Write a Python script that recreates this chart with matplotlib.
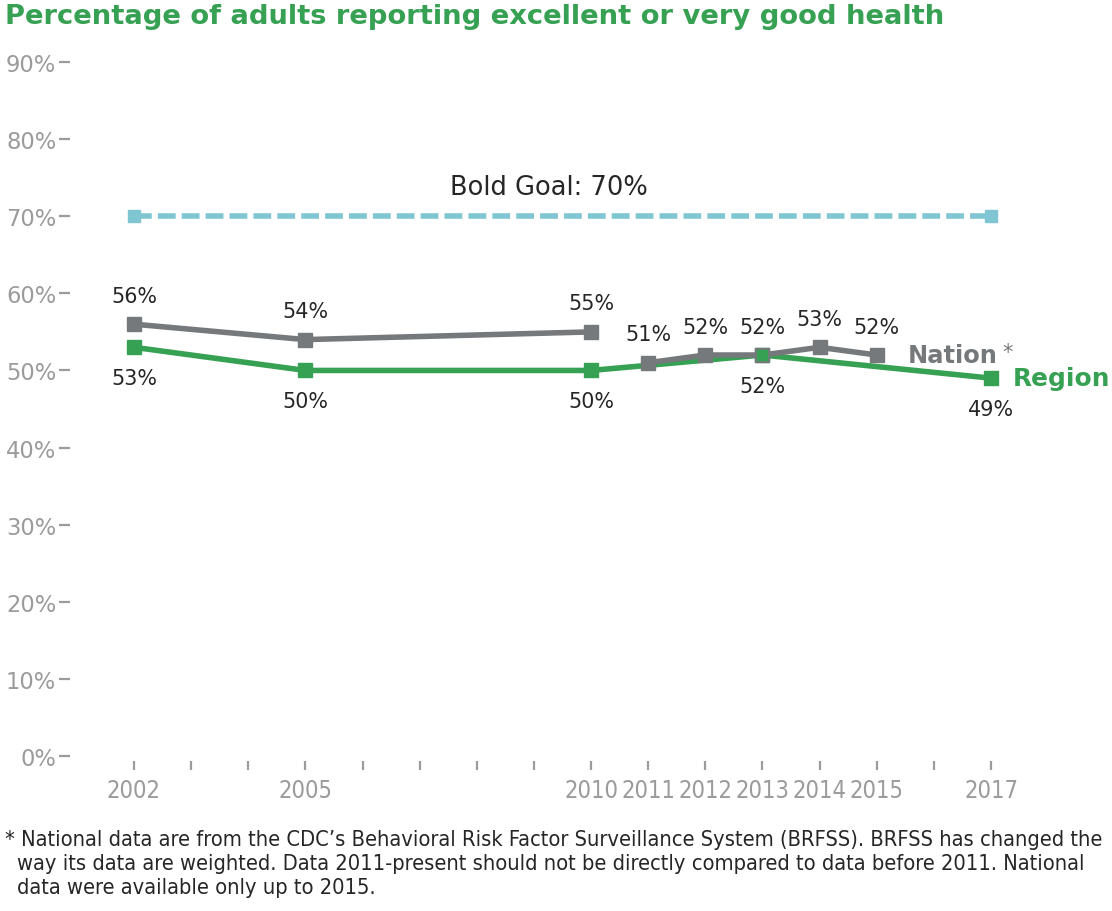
import matplotlib
matplotlib.use('Agg')
import matplotlib.pyplot as plt
from matplotlib import font_manager
from matplotlib.font_manager import FontProperties

# ---- data ----
nation_years_a = [2002, 2005, 2010]
nation_a = [56, 54, 55]
nation_years_b = [2011, 2012, 2013, 2014, 2015]
nation_b = [51, 52, 52, 53, 52]
region_years = [2002, 2005, 2010, 2013, 2017]
region = [53, 50, 50, 52, 49]
goal_years = [2002, 2017]
goal = [70, 70]
tick_years = list(range(2002, 2018))
label_years = [2002, 2005, 2010, 2011, 2012, 2013, 2014, 2015, 2017]
y_ticks = list(range(0, 100, 10))
title = "Percentage of adults reporting excellent or very good health"
goal_label = "Bold Goal: 70%"
foot_lines = ["* National data are from the CDC\u2019s Behavioral Risk Factor Surveillance System (BRFSS). BRFSS has changed the",
              "way its data are weighted. Data 2011-present should not be directly compared to data before 2011. National",
              "data were available only up to 2015."]

GREEN = '#36a153'
GRAY = '#76797c'
LGRAY = '#9b9b9b'
BLUE = '#80c6d2'
DARK = '#262626'

# look for a condensed face, else fall back to DejaVu Sans
cond_path = None
for f in font_manager.fontManager.ttflist:
    if (f.stretch in ('condensed', 'semi-condensed', 'extra-condensed') or 'Condensed' in f.name
            or 'Narrow' in f.name) and f.style == 'normal' and f.weight in (400, 'normal', 'regular'):
        cond_path = f.fname
        break
if cond_path:
    NARROW_FP = FontProperties(fname=cond_path)
else:
    NARROW_FP = FontProperties(family='DejaVu Sans')
BASE = 'DejaVu Sans'

W, H = 1112, 912
fig = plt.figure(figsize=(W / 100, H / 100), dpi=100)
renderer = fig.canvas.get_renderer()


def fit_size(text, target_px, **kw):
    t = fig.text(0, 0, text, fontsize=10, **kw)
    w = t.get_window_extent(renderer).width
    t.remove()
    return 10 * target_px / w


L, R, B, T = 70, 1100, 771, 55
ax = fig.add_axes([L / W, (H - B) / H, (R - L) / W, (B - T) / H])
pxy = (991 - 134) / 15.0
ax.set_xlim(2002 - (134 - L) / pxy, 2017 + (R - 991) / pxy)
pyy = (757 - 63) / 90.0
ax.set_ylim(-(B - 757) / pyy, 90 + (63 - T) / pyy)

for s in ax.spines.values():
    s.set_visible(False)

# goal line
ax.plot(goal_years, goal, color=BLUE, lw=4.0, ls=(0, (3.2, 1.1)), marker='s', ms=9, zorder=2)
ax.text(sum(goal_years) / 2 - 0.23, goal[0] + 3.8, goal_label, ha='center', va='center',
        fontsize=fit_size(goal_label, 198, family=BASE), color=DARK, family=BASE)

# region and nation
ax.plot(region_years, region, color=GREEN, lw=4.0, marker='s', ms=9.6, zorder=3)
ax.plot(nation_years_a, nation_a, color=GRAY, lw=4.0, marker='s', ms=9.6, zorder=4)
ax.plot(nation_years_b, nation_b, color=GRAY, lw=4.0, marker='s', ms=9.6, zorder=4)
ax.plot([2013], [52], color=GREEN, marker='s', ms=7.5, ls='none', zorder=5)

lab_fs = fit_size("56%", 46, family=BASE)
for x, v in zip(nation_years_a + nation_years_b, nation_a + nation_b):
    ax.annotate(f"{v}%", (x, v), xytext=(0, 20.5), textcoords='offset points',
                ha='center', va='center', fontsize=lab_fs, color=DARK, family=BASE)
for x, v in zip(region_years, region):
    ax.annotate(f"{v}%", (x, v), xytext=(0, -22), textcoords='offset points',
                ha='center', va='center', fontsize=lab_fs, color=DARK, family=BASE)

nat_fs = fit_size("Nation", 90, family=BASE, fontweight='bold')
ax.annotate("Nation", (2015, 52), xytext=(22.5, 0), textcoords='offset points',
            ha='left', va='center', fontsize=nat_fs, fontweight='bold', color=GRAY, family=BASE)
ax.annotate("*", (2015, 52), xytext=(90.5, 2), textcoords='offset points',
            ha='left', va='center', fontsize=lab_fs, color=GRAY, family=BASE)
reg_fs = fit_size("Region", 97, family=BASE, fontweight='bold')
ax.annotate("Region", (2017, 49), xytext=(16, 0), textcoords='offset points',
            ha='left', va='center', fontsize=reg_fs, fontweight='bold', color=GREEN, family=BASE)

# axes ticks
ax.set_yticks(y_ticks)
ax.set_yticklabels([f"{v}%" for v in y_ticks], fontsize=fit_size("90%", 50, family=BASE),
                   color=LGRAY, family=BASE)
ax.tick_params(axis='y', direction='out', length=7.9, width=1.6, color=LGRAY, pad=2)
ax.set_xticks(tick_years)
yr_fs = fit_size("2010", 54, fontproperties=NARROW_FP)
xt = ax.set_xticklabels([str(y) if y in label_years else '' for y in tick_years], color=LGRAY)
for t in xt:
    t.set_fontproperties(NARROW_FP)
    t.set_fontsize(yr_fs)
ax.tick_params(axis='x', direction='in', length=6.5, width=1.6, color=LGRAY, pad=6)

fig.text(5 / W, 1 - 17 / H, title, ha='left', va='center',
         fontsize=fit_size(title, 943, family=BASE, fontweight='bold'), fontweight='bold',
         color=GREEN, family=BASE)

foot_fs = fit_size(foot_lines[0], 1102, fontproperties=NARROW_FP)
for i, (line, y) in enumerate(zip(foot_lines, [840, 864, 888])):
    fig.text((5 if i == 0 else 17) / W, 1 - y / H, line, ha='left', va='center',
             fontproperties=NARROW_FP, fontsize=foot_fs, color=DARK)

fig.savefig('out.png', dpi=100)
